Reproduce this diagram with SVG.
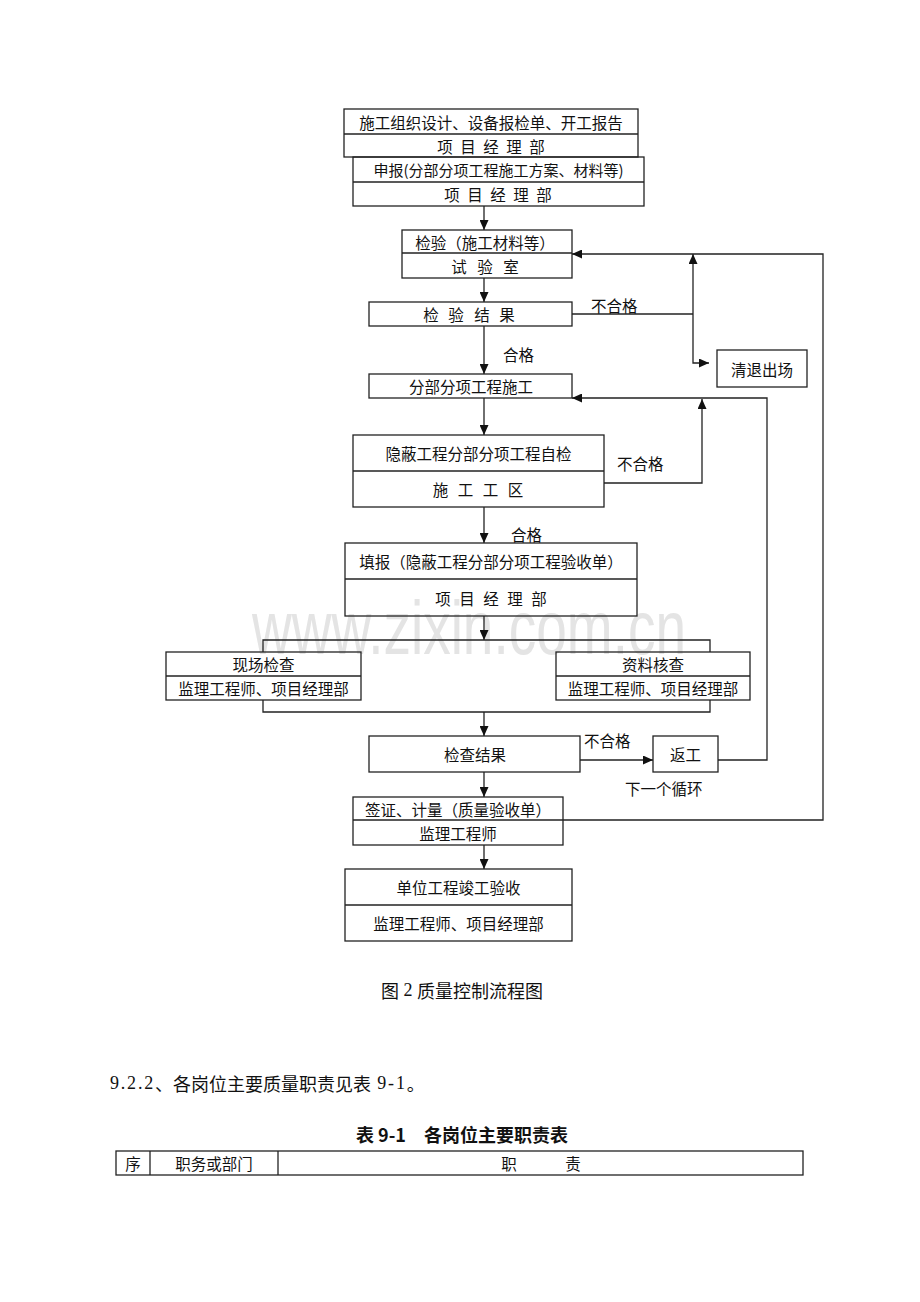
<svg xmlns="http://www.w3.org/2000/svg" width="920" height="1302" viewBox="0 0 920 1302">
<style>
.box{fill:none;stroke:#222;stroke-width:1.3}
.ln{fill:none;stroke:#222;stroke-width:1.3}
.t{font-family:"Noto Sans CJK SC",sans-serif;font-size:15.5px;fill:#111;text-anchor:middle;dominant-baseline:central}
.lb{font-family:"Noto Sans CJK SC",sans-serif;font-size:15.5px;fill:#111;dominant-baseline:central}
.body{font-family:"Noto Sans CJK SC",sans-serif;font-size:18px;fill:#111;dominant-baseline:central}
.dg{font-family:"Liberation Serif",serif;font-size:18px;letter-spacing:1.8px}
.wm{font-family:"Liberation Sans",Arial,sans-serif;font-size:76px;fill:#e4e4e4}
</style>
<defs>
<marker id="ah" markerWidth="10" markerHeight="9" refX="10" refY="4.5" orient="auto" markerUnits="userSpaceOnUse">
<path d="M0,0 L10,4.5 L0,9 z" fill="#111"/>
</marker>
</defs>
<rect width="920" height="1302" fill="#fff"/>
<text class="wm" x="252" y="654" textLength="434" lengthAdjust="spacingAndGlyphs">www.zixin.com.cn</text>

<g id="connectors">
<line class="ln" x1="484" y1="206" x2="484" y2="230" marker-end="url(#ah)"/>
<line class="ln" x1="484" y1="278" x2="484" y2="302" marker-end="url(#ah)"/>
<line class="ln" x1="484" y1="326" x2="484" y2="374" marker-end="url(#ah)"/>
<line class="ln" x1="484" y1="398" x2="484" y2="435" marker-end="url(#ah)"/>
<line class="ln" x1="484" y1="507" x2="484" y2="543" marker-end="url(#ah)"/>
<line class="ln" x1="484" y1="616" x2="484" y2="640" marker-end="url(#ah)"/>
<path class="ln" d="M263,652 V640 H710 V652"/>
<path class="ln" d="M263,700 V712 H710 V700"/>
<line class="ln" x1="484" y1="712" x2="484" y2="736" marker-end="url(#ah)"/>
<line class="ln" x1="484" y1="772" x2="484" y2="797" marker-end="url(#ah)"/>
<line class="ln" x1="484" y1="845" x2="484" y2="869" marker-end="url(#ah)"/>
<path class="ln" d="M572,314 H693"/>
<path class="ln" d="M693,314 V254" marker-end="url(#ah)"/>
<path class="ln" d="M693,314 V363 H709" marker-end="url(#ah)"/>
<path class="ln" d="M563,820 H823 V254 H572" marker-end="url(#ah)"/>
<path class="ln" d="M604,483 H702 V399" marker-end="url(#ah)"/>
<path class="ln" d="M718,760 H767 V398 H572" marker-end="url(#ah)"/>
<path class="ln" d="M580,760 H653" marker-end="url(#ah)"/>
</g>

<g id="n1">
<rect class="box" x="344" y="109" width="294" height="48"/>
<line class="ln" x1="344" y1="134" x2="638" y2="134"/>
<text class="t" x="491" y="121.5">施工组织设计、设备报检单、开工报告</text>
<text class="t" x="445 468 491 514 537" y="145.5">项目经理部</text>
</g>
<g id="n2">
<rect class="box" x="353" y="157" width="291" height="49"/>
<line class="ln" x1="353" y1="182" x2="644" y2="182"/>
<text class="t" x="498.5" y="169.5" style="font-size:15px">申报(分部分项工程施工方案、材料等)</text>
<text class="t" x="452 475 498 521 544" y="194">项目经理部</text>
</g>
<g id="n3">
<rect class="box" x="402" y="230" width="170" height="48"/>
<line class="ln" x1="402" y1="253" x2="572" y2="253"/>
<text class="t" x="485" y="241.5">检验（施工材料等）</text>
<text class="t" x="459 485 511" y="265.5">试验室</text>
</g>
<g id="n4">
<rect class="box" x="369" y="302" width="203" height="24"/>
<text class="t" x="431 456 482 507" y="314">检验结果</text>
</g>
<g id="n5">
<rect class="box" x="717" y="350" width="90" height="37"/>
<text class="t" x="762" y="368.5">清退出场</text>
</g>
<g id="n6">
<rect class="box" x="369" y="374" width="203" height="24"/>
<text class="t" x="471" y="386">分部分项工程施工</text>
</g>
<g id="n7">
<rect class="box" x="353" y="435" width="251" height="72"/>
<line class="ln" x1="353" y1="471" x2="604" y2="471"/>
<text class="t" x="478.5" y="453">隐蔽工程分部分项工程自检</text>
<text class="t" x="440.5 465.5 490.5 515.5" y="489">施工工区</text>
</g>
<g id="n8">
<rect class="box" x="345" y="543" width="292" height="73"/>
<line class="ln" x1="345" y1="579" x2="637" y2="579"/>
<text class="t" x="491" y="561">填报（隐蔽工程分部分项工程验收单）</text>
<text class="t" x="443 467 491 515 539" y="597.5">项目经理部</text>
</g>
<g id="n9">
<rect class="box" x="166" y="652" width="195" height="48"/>
<line class="ln" x1="166" y1="676" x2="361" y2="676"/>
<text class="t" x="263.5" y="664">现场检查</text>
<text class="t" x="263.5" y="688">监理工程师、项目经理部</text>
</g>
<g id="n10">
<rect class="box" x="556" y="652" width="194" height="48"/>
<line class="ln" x1="556" y1="676" x2="750" y2="676"/>
<text class="t" x="653" y="664">资料核查</text>
<text class="t" x="653" y="688">监理工程师、项目经理部</text>
</g>
<g id="n11">
<rect class="box" x="369" y="736" width="211" height="36"/>
<text class="t" x="475" y="754">检查结果</text>
</g>
<g id="n12">
<rect class="box" x="653" y="736" width="65" height="36"/>
<text class="t" x="685.5" y="754">返工</text>
</g>
<g id="n13">
<rect class="box" x="353" y="797" width="210" height="48"/>
<line class="ln" x1="353" y1="820" x2="563" y2="820"/>
<text class="t" x="458" y="808.5">签证、计量（质量验收单）</text>
<text class="t" x="458" y="832.5">监理工程师</text>
</g>
<g id="n14">
<rect class="box" x="345" y="869" width="227" height="72"/>
<line class="ln" x1="345" y1="905" x2="572" y2="905"/>
<text class="t" x="458.5" y="887">单位工程竣工验收</text>
<text class="t" x="458.5" y="923">监理工程师、项目经理部</text>
</g>

<g id="labels">
<text class="lb" x="591" y="305">不合格</text>
<text class="lb" x="503" y="354">合格</text>
<text class="lb" x="617" y="463">不合格</text>
<text class="lb" x="511" y="534">合格</text>
<text class="lb" x="584" y="740">不合格</text>
<text class="lb" x="625" y="788">下一个循环</text>
</g>

<g id="caption">
<text class="body" x="462" y="990" text-anchor="middle">图<tspan style="font-family:'Liberation Serif',serif"> 2 </tspan>质量控制流程图</text>
<text class="body" x="110" y="1083"><tspan class="dg">9.2.2</tspan>、各岗位主要质量职责见表<tspan class="dg"> 9-1</tspan>。</text>
<text x="462" y="1134" text-anchor="middle" dominant-baseline="central" style="font-family:'Noto Sans CJK SC',sans-serif;font-size:18px;font-weight:bold;fill:#111">表 9-1　各岗位主要职责表</text>
</g>
<g id="table">
<rect class="box" x="116" y="1151" width="687" height="24"/>
<line class="ln" x1="150" y1="1151" x2="150" y2="1175"/>
<line class="ln" x1="278" y1="1151" x2="278" y2="1175"/>
<text class="t" x="133" y="1163">序</text>
<text class="t" x="214" y="1163">职务或部门</text>
<text class="t" x="509" y="1163">职</text>
<text class="t" x="573" y="1163">责</text>
</g>
</svg>
